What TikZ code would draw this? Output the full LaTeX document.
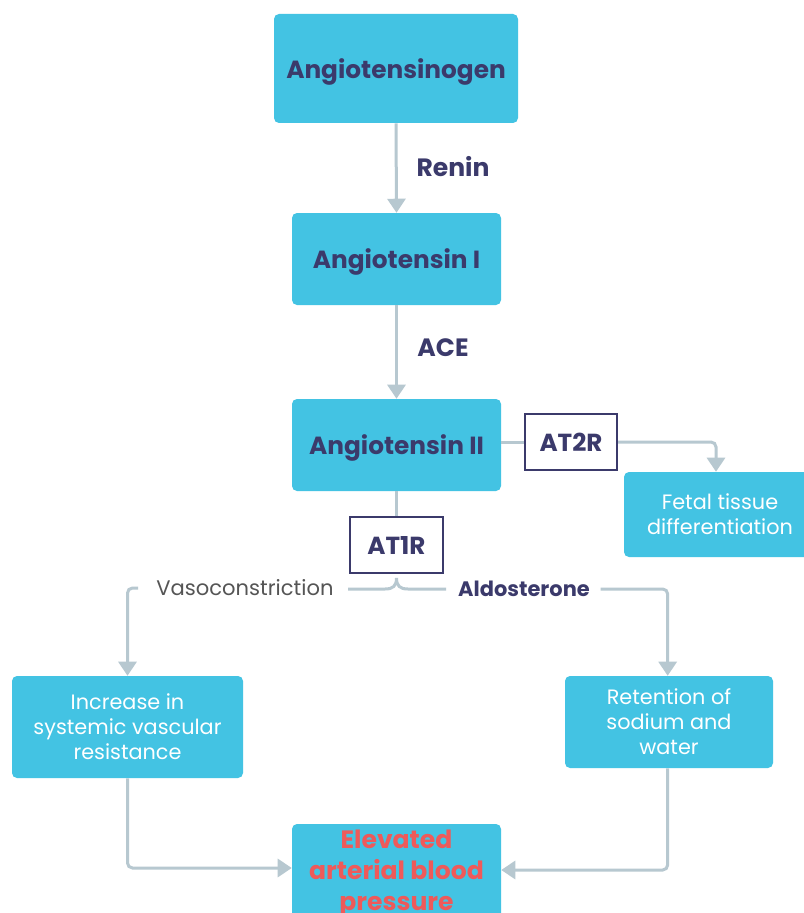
\documentclass[tikz,border=0pt]{standalone}
\usepackage{fontspec}
\setmainfont{Poppins}
\usetikzlibrary{arrows.meta}
\newlength\px \setlength\px{0.75pt}
\newcommand\lowtxt[1]{\raisebox{-2.5pt}[\height][\depth]{#1}}
\definecolor{boxblue}{HTML}{43C3E3}
\definecolor{navy}{HTML}{3B3A6B}
\definecolor{conncol}{HTML}{B7C8D0}
\definecolor{redtxt}{HTML}{EE5A5A}
\definecolor{graytxt}{HTML}{555555}
\tikzset{
  bluebox/.style={fill=boxblue, rounded corners=3.75pt, inner sep=0pt, align=center},
  headbox/.style={bluebox, text=navy, font=\bfseries\fontsize{18.6}{22}\selectfont},
  whitebox/.style={bluebox, text=white, font=\fontsize{15.6}{18.75}\selectfont},
  recbox/.style={draw=navy, line width=1.5pt, fill=white, text=navy, inner sep=0pt, font=\bfseries\fontsize{18.5}{22}\selectfont},
  lbl/.style={text=navy, inner sep=0pt, font=\bfseries\fontsize{18.8}{22}\selectfont},
  conn/.style={draw=conncol, line width=2.25pt, rounded corners=3.75pt},
  arr/.style={conn, -{Triangle[width=13.5pt,length=10.5pt]}},
}
\begin{document}
\begin{tikzpicture}[x=0.75pt, y=-0.75pt]
\useasboundingbox (0,0) rectangle (803,913);
\fill[white] (0,0) rectangle (803,913);
% boxes
\node[headbox, minimum width=244\px, minimum height=109\px] (ag) at (396,68.5) {\lowtxt{Angiotensinogen}};
\node[headbox, minimum width=209\px, minimum height=92\px] (a1) at (396.5,259) {\lowtxt{Angiotensin I}};
\node[headbox, minimum width=209\px, minimum height=92\px] (a2) at (396.5,445) {\lowtxt{Angiotensin II}};
\node[recbox, minimum width=92\px, minimum height=56\px] (at2r) at (571,442) {AT2R};
\node[whitebox, minimum width=192\px, minimum height=85\px] (fetal) at (720,514.5) {Fetal tissue\\differentiation};
\node[recbox, minimum width=93\px, minimum height=56\px] (at1r) at (396.5,545) {AT1R};
\node[whitebox, minimum width=231\px, minimum height=102\px] (inc) at (127.5,727) {Increase in\\systemic vascular\\resistance};
\node[whitebox, minimum width=208\px, minimum height=92\px] (ret) at (669,722) {Retention of\\sodium and\\water};
\node[bluebox, minimum width=209\px, minimum height=120\px] (elev) at (396.5,884) {};
\node[align=center, inner sep=0pt, text=redtxt, font=\bfseries\fontsize{18.8}{23.25}\selectfont] (elevtxt) at (396.5,874) {Elevated\\arterial blood\\pressure};
% labels
\node[lbl] (renin) at (453,167) {Renin};
\node[lbl] (ace) at (443,348) {ACE};
\node[text=graytxt, inner sep=0pt, font=\fontsize{15.8}{19}\selectfont] (vaso) at (245,588) {Vasoconstriction};
\node[lbl, font=\bfseries\fontsize{15.7}{19}\selectfont] (aldo) at (524,589) {Aldosterone};
% connectors
\draw[arr] (ag.south) -- (a1.north);
\draw[arr] (a1.south) -- (a2.north);
\draw[conn] (a2.east |- at2r.west) -- (at2r.west);
\draw[arr] (at2r.east) -| ([xshift=-3pt]fetal.north);
\draw[conn] (a2.south) -- (at1r.north);
\coordinate (bl) at (348,589);
\coordinate (br) at (446,589);
\coordinate (tip) at (396.5,578);
\draw[conn, rounded corners=0pt] (bl) -- (385,589) .. controls (393,589) and (396.5,586) .. (tip) .. controls (396.5,586) and (400,589) .. (408,589) -- (br);
\draw[arr] ([xshift=-13.5pt]vaso.west) -| (inc.north);
\draw[arr] ([xshift=8pt]aldo.east) -| ([xshift=-1pt]ret.north);
\draw[arr] (inc.south) |- ([yshift=12pt]elev.west);
\draw[arr] ([xshift=-1pt]ret.south) |- ([yshift=10.5pt]elev.east);
\end{tikzpicture}
\end{document}
